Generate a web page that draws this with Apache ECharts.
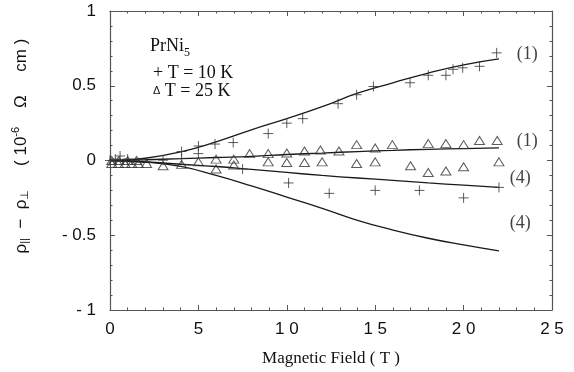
<!DOCTYPE html>
<html><head><meta charset="utf-8">
<script src="https://cdn.jsdelivr.net/npm/echarts@6/dist/echarts.min.js"></script>
<style>html,body{margin:0;padding:0;background:#fff}#c{width:574px;height:372px}</style>
</head><body><div id="c"></div>
<script>
// ---- data ----
var xTickLabels = {0:'0',5:'5',10:'1 0',15:'1 5',20:'2 0',25:'2 5'};
var yTickLabels = {'-1':'- 1','-0.5':'- 0.5','0':'0','0.5':'0.5','1':'1'};
var fieldCurve = [0,2,4,6,8,10,12,14,16,18,20,22];
var curve10K_1 = [0,0.015,0.058,0.125,0.205,0.28,0.36,0.45,0.52,0.585,0.64,0.68];
var curve25K_1 = [0,0.005,0.012,0.02,0.028,0.04,0.05,0.06,0.068,0.075,0.08,0.084];
var curve25K_4 = [0,-0.01,-0.025,-0.04,-0.06,-0.08,-0.1,-0.117,-0.133,-0.15,-0.165,-0.18];
var curve10K_4 = [0,-0.01,-0.04,-0.1,-0.17,-0.245,-0.32,-0.40,-0.465,-0.52,-0.565,-0.605];
var pts10K = [[0,0],[0.3,0.01],[0.57,0.03],[1.0,0.01],[3.0,0.002],[4.05,0.06],[4.05,0.013],
  [5.0,0.097],[5.0,0.046],[5.94,0.11],[6.97,0.12],[8.95,0.18],[10.0,0.25],[10.9,0.28],
  [12.9,0.38],[13.95,0.44],[14.9,0.495],[16.97,0.52],[18.0,0.57],[19.0,0.57],[19.4,0.61],
  [19.95,0.62],[20.9,0.63],[21.87,0.72],
  [7.5,-0.057],[10.1,-0.15],[12.4,-0.22],[15,-0.2],[17.5,-0.2],[20,-0.25],[22,-0.18]];
var pts25K = [[0.1,-0.02],[0.48,-0.02],[0.85,-0.02],[1.23,-0.02],[1.6,-0.02],[2.07,-0.02],
  [0.1,0.0],[0.5,0.0],[1.0,0.0],[1.5,0.0],[3.0,-0.035],[4.05,-0.026],
  [5.0,-0.009],[6.0,0.009],[7.0,0.009],[6.0,-0.057],[7.0,-0.03],
  [7.9,0.046],[8.95,0.046],[10.0,0.05],[11.0,0.064],[11.9,0.07],[12.95,0.064],[13.95,0.106],
  [15,0.084],[15.97,0.106],[18.0,0.113],[19.0,0.113],[20.0,0.106],[20.9,0.134],[21.9,0.134],
  [8.95,-0.009],[10,-0.013],[11,-0.013],[12,-0.009],[13.95,-0.02],[15,-0.009],[17,-0.035],
  [18,-0.08],[19,-0.07],[20,-0.042],[22,-0.009]];
var curveLabels = [['(1)',23.6,0.71],['(1)',23.6,0.126],['(4)',23.2,-0.12],['(4)',23.2,-0.42]];

function zip(xs, ys){ return xs.map(function(x,i){return [x, ys[i]];}); }
var ink = '#1a1a1a';
var frame = '#555';
var plus = 'path://M0,5L10,5M5,0L5,10';
function lineSeries(vals){
  return {type:'line', data: zip(fieldCurve, vals), smooth:true, showSymbol:false, symbol:'none',
    lineStyle:{color:ink, width:1.3}, z:2, silent:true};
}
var chart = echarts.init(document.getElementById('c'), null, {renderer:'canvas'});
var tickFont = 'Liberation Sans, Arial, sans-serif';
var serif = 'Liberation Serif, Times New Roman, serif';
function axisCommon(){
  return {
    axisLine:{show:true, onZero:false, lineStyle:{color:frame, width:1.2}},
    splitLine:{show:false},
    axisTick:{show:true, inside:true, length:5, lineStyle:{color:frame}},
    minorTick:{show:true, splitNumber:5, length:2.5, lineStyle:{color:frame}}
  };
}
chart.setOption({
  animation:false,
  grid:{left:110, right:22, top:11, bottom:59},
  xAxis:[
    Object.assign({type:'value', min:0, max:25, interval:5, position:'bottom',
      axisLabel:{color:'#111', fontFamily:tickFont, fontSize:17, margin:11,
        formatter:function(v){return xTickLabels[v];}},
      name:'Magnetic Field ( T )', nameLocation:'middle', nameGap:40,
      nameTextStyle:{fontFamily:serif, fontSize:17, color:'#111'}}, axisCommon()),
    Object.assign({type:'value', min:0, max:25, interval:5, position:'top',
      axisLabel:{show:false}}, axisCommon())
  ],
  yAxis:[
    Object.assign({type:'value', min:-1, max:1, interval:0.5, position:'left',
      axisLabel:{color:'#111', fontFamily:tickFont, fontSize:17, margin:14,
        formatter:function(v){return yTickLabels[String(v)];}}}, axisCommon()),
    Object.assign({type:'value', min:-1, max:1, interval:0.5, position:'right',
      axisLabel:{show:false}}, axisCommon())
  ],
  series:[
    lineSeries(curve10K_1), lineSeries(curve25K_1), lineSeries(curve25K_4), lineSeries(curve10K_4),
    {type:'scatter', name:'T = 10 K', data:pts10K, symbol:plus, symbolSize:10,
      itemStyle:{color:'rgba(0,0,0,0)', borderColor:'#333', borderWidth:1}, z:3},
    {type:'scatter', name:'T = 25 K', data:pts25K, symbol:'triangle', symbolSize:[10,8],
      itemStyle:{color:'rgba(0,0,0,0)', borderColor:'#333', borderWidth:1}, z:3},
    {type:'scatter', data:curveLabels.map(function(l){return {value:[l[1],l[2]], name:l[0]};}),
      symbolSize:0, silent:true,
      label:{show:true, position:'inside', formatter:function(p){return p.name;},
        fontFamily:serif, fontSize:18, color:'#111'}}
  ],
  graphic:[
    {type:'text', left:150, top:37, style:{
      text:'PrNi{s|5}', fontFamily:serif, fontSize:18, fill:'#111',
      rich:{s:{fontSize:12, fontFamily:serif, fill:'#111', padding:[14,0,0,0]}}}},
    {type:'text', left:153, top:64, style:{text:'+ T = 10 K', fontFamily:serif, fontSize:18, fill:'#111'}},
    {type:'text', left:153, top:82, style:{
      text:'{t|\u0394} T = 25 K', fontFamily:serif, fontSize:18, fill:'#111',
      rich:{t:{fontSize:11, fontFamily:tickFont, fill:'#111'}}}},
    {type:'text', x:21, y:146, rotation:Math.PI/2, style:{
      text:'\u03c1{sub|||}  \u2212  \u03c1{sub|\u22a5}     ( 10{sup|-6}    \u03a9     cm )',
      fontFamily:tickFont, fontSize:17, fill:'#111', align:'center', verticalAlign:'middle',
      rich:{sub:{fontSize:11, fontFamily:tickFont, fill:'#111', padding:[8,0,0,0]},
            sup:{fontSize:11, fontFamily:tickFont, fill:'#111', padding:[0,0,10,0]}}}}
  ]
});
</script></body></html>
